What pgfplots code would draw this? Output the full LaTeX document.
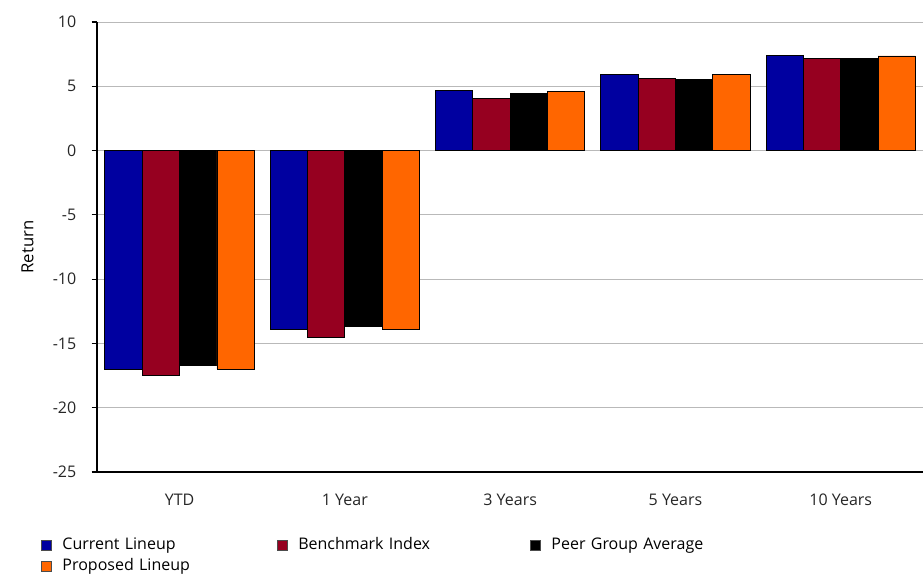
\documentclass[border=0pt]{standalone}
\usepackage{pgfplots}
\pgfplotsset{compat=1.18}
\usepackage{fontspec}
\setmainfont{Open Sans}
\definecolor{cblue}{RGB}{0,0,160}
\definecolor{cred}{RGB}{150,0,32}
\definecolor{corange}{RGB}{255,102,0}
\definecolor{cgrid}{RGB}{185,185,185}
\begin{document}
\begin{tikzpicture}
\begin{axis}[
  width=620pt, height=337.5pt, scale only axis, clip=false,
  xmin=-0.5, xmax=4.5, ymin=-25, ymax=10,
  xtick={0,1,2,3,4},
  xticklabels={YTD,1 Year,3 Years,5 Years,10 Years},
  ytick={-25,-20,-15,-10,-5,0,5,10},
  /pgf/number format/assume math mode=true,
  axis x line*=bottom, axis y line*=left,
  axis line style={black, line width=0.9pt},
  x tick style={draw=none},
  y tick style={black, line width=0.9pt},
  tick align=outside, major tick length=4pt,
  ymajorgrids, grid style={cgrid, line width=0.8pt},
  ybar=0pt, bar width=0.226,
  ticklabel style={font=\fontsize{12}{14}\selectfont, text=black!85},
  xticklabel style={yshift=-9pt},
  yticklabel style={xshift=-8pt},
  ylabel={Return},
  ylabel style={font=\fontsize{12.5}{14}\selectfont, at={(axis description cs:-0.071,0.5)}, anchor=south},
  legend columns=3,
  legend cell align=left,
  legend style={draw=none, fill=none, at={(axis description cs:-0.0725,-0.139)}, anchor=north west,
     font=\fontsize{12}{14}\selectfont, row sep=3.75pt,
     nodes={inner sep=0pt, text height=9pt, text depth=3pt},
     /tikz/every odd column/.style={column sep=8pt},
     /tikz/column 2/.style={nodes={text width=161pt}},
     /tikz/column 4/.style={nodes={text width=174pt}},
     /tikz/column 6/.style={nodes={text width=150pt}}},
  legend image code/.code={\draw[#1, draw=black!70, line width=0.4pt] (0pt,-3.8pt) rectangle (7.5pt,3.8pt);},
]
\addplot[fill=cblue, draw=black, line width=0.6pt, bar shift=-0.339] coordinates {(0,-17.0) (1,-13.9) (2,4.7) (3,5.92) (4,7.4)};
\addlegendentry{Current Lineup}
\addplot[fill=cred, draw=black, line width=0.6pt, bar shift=-0.113] coordinates {(0,-17.5) (1,-14.5) (2,4.05) (3,5.58) (4,7.14)};
\addlegendentry{Benchmark Index}
\addplot[fill=black, draw=black, line width=0.6pt, bar shift=0.113] coordinates {(0,-16.7) (1,-13.7) (2,4.45) (3,5.53) (4,7.14)};
\addlegendentry{Peer Group Average}
\addplot[fill=corange, draw=black, line width=0.6pt, bar shift=0.339] coordinates {(0,-17.0) (1,-13.9) (2,4.62) (3,5.9) (4,7.36)};
\addlegendentry{Proposed Lineup}
\path (axis description cs:-0.1173,-0.2267) rectangle (axis description cs:1.0,1.049);
\end{axis}
\end{tikzpicture}
\end{document}
